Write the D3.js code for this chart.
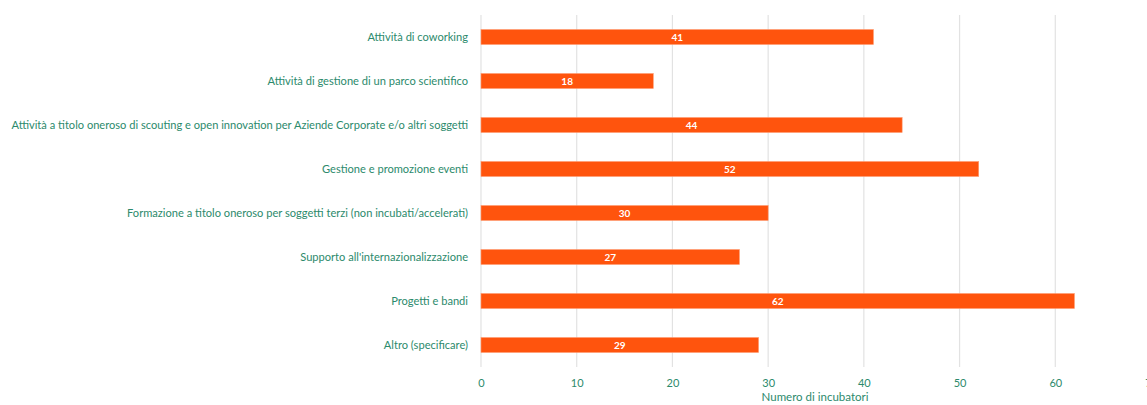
<!DOCTYPE html>
<html><head><meta charset="utf-8">
<script src="https://cdn.jsdelivr.net/npm/d3@7"></script>
<style>body{margin:0;background:#fff;}svg{display:block;}</style>
</head><body>
<svg id="c" width="1147" height="405"></svg>
<script>
const categories = [
  "Attività di coworking",
  "Attività di gestione di un parco scientifico",
  "Attività a titolo oneroso di scouting e open innovation per Aziende Corporate e/o altri soggetti",
  "Gestione e promozione eventi",
  "Formazione a titolo oneroso per soggetti terzi (non incubati/accelerati)",
  "Supporto all'internazionalizzazione",
  "Progetti e bandi",
  "Altro (specificare)"
];
const values = [41, 18, 44, 52, 30, 27, 62, 29];
const xTicks = [0, 10, 20, 30, 40, 50, 60, 70];
const axisTitle = "Numero di incubatori";

const svg = d3.select("#c");
const teal = "#2c8a6c";
const font = "Lato, 'Open Sans', sans-serif";
const x = d3.scaleLinear().domain([0, 70]).range([481, 1151]);
const y = d3.scaleBand().domain(categories).range([15, 367]).paddingInner(0.66).paddingOuter(0.33);

// gridlines
svg.append("g").selectAll("line").data(xTicks).join("line")
  .attr("x1", d => x(d)).attr("x2", d => x(d))
  .attr("y1", 15).attr("y2", 367)
  .attr("stroke", "#e2e2e2").attr("stroke-width", 1.2);

// bars
svg.append("g").selectAll("rect").data(values).join("rect")
  .attr("x", x(0)).attr("y", (d, i) => y(categories[i]))
  .attr("width", d => x(d) - x(0)).attr("height", y.bandwidth())
  .attr("fill", "#ff540d").attr("stroke", "#ff9a70").attr("stroke-width", 0.6);

// value labels
svg.append("g").selectAll("text").data(values).join("text")
  .attr("x", d => (x(0) + x(d)) / 2).attr("y", (d, i) => y(categories[i]) + y.bandwidth() / 2)
  .attr("dy", "0.35em").attr("text-anchor", "middle")
  .attr("fill", "#fff").attr("font-family", font).attr("font-weight", "bold").attr("font-size", 10)
  .text(d => d);

// category labels
svg.append("g").selectAll("text").data(categories).join("text")
  .attr("x", 468).attr("y", d => y(d) + y.bandwidth() / 2)
  .attr("dy", "0.35em").attr("text-anchor", "end")
  .attr("fill", teal).attr("font-family", font).attr("font-size", 11.1)
  .text(d => d);

// x axis tick labels
const ax = svg.append("g").attr("transform", "translate(0,377)")
  .call(d3.axisBottom(x).tickValues(xTicks).tickSize(0).tickPadding(2));
ax.select(".domain").remove();
ax.selectAll("text").attr("fill", teal).attr("font-family", font).attr("font-size", 11);

svg.append("text").attr("x", 815).attr("y", 401)
  .attr("text-anchor", "middle").attr("fill", teal).attr("font-family", font).attr("font-size", 11.5)
  .text(axisTitle);
</script>
</body></html>
